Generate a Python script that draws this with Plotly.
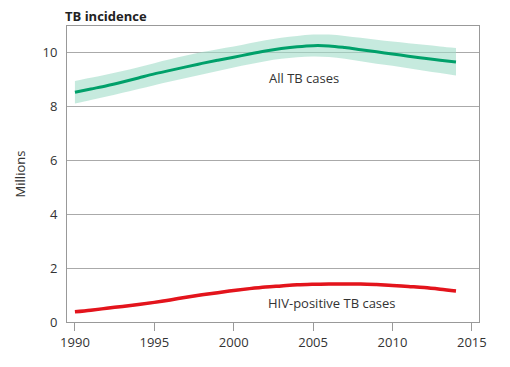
import plotly.graph_objects as go

years = list(range(1990, 2015))
all_tb = [8.54, 8.66, 8.78, 8.92, 9.07, 9.22, 9.35, 9.48, 9.61, 9.73, 9.84, 9.96, 10.07, 10.16,
          10.23, 10.27, 10.26, 10.20, 10.12, 10.04, 9.96, 9.88, 9.80, 9.73, 9.66]
all_tb_lo = [8.12, 8.25, 8.38, 8.52, 8.66, 8.80, 8.94, 9.07, 9.20, 9.33, 9.46, 9.58, 9.69, 9.78,
             9.84, 9.87, 9.85, 9.78, 9.69, 9.60, 9.52, 9.43, 9.34, 9.25, 9.16]
all_tb_hi = [8.96, 9.08, 9.20, 9.33, 9.47, 9.62, 9.76, 9.90, 10.03, 10.14, 10.24, 10.36, 10.47, 10.56,
             10.63, 10.68, 10.68, 10.63, 10.56, 10.49, 10.42, 10.36, 10.30, 10.24, 10.18]
hiv_tb = [0.38, 0.44, 0.51, 0.58, 0.65, 0.73, 0.82, 0.92, 1.01, 1.09, 1.17, 1.24, 1.30, 1.34,
          1.38, 1.40, 1.41, 1.41, 1.41, 1.39, 1.36, 1.32, 1.28, 1.22, 1.15]
hiv_lo = [v - 0.05 for v in hiv_tb]
hiv_hi = [v + 0.05 for v in hiv_tb]

x_ticks = [1990, 1995, 2000, 2005, 2010, 2015]
y_ticks = [0, 2, 4, 6, 8, 10]

GREEN = "#00a06a"
GREEN_BAND = "rgba(160,220,200,0.6)"
RED = "#e3141c"
RED_BAND = "rgba(240,150,150,0.5)"
FONT = "Open Sans"

fig = go.Figure()
fig.add_trace(go.Scatter(x=years, y=all_tb_hi, mode="lines", line=dict(width=0, shape="spline"),
                         hoverinfo="skip", showlegend=False))
fig.add_trace(go.Scatter(x=years, y=all_tb_lo, mode="lines", line=dict(width=0, shape="spline"),
                         fill="tonexty", fillcolor=GREEN_BAND, hoverinfo="skip", showlegend=False))
fig.add_trace(go.Scatter(x=years, y=all_tb, mode="lines", line=dict(color=GREEN, width=3, shape="spline"),
                         showlegend=False))
fig.add_trace(go.Scatter(x=years, y=hiv_hi, mode="lines", line=dict(width=0, shape="spline"),
                         hoverinfo="skip", showlegend=False))
fig.add_trace(go.Scatter(x=years, y=hiv_lo, mode="lines", line=dict(width=0, shape="spline"),
                         fill="tonexty", fillcolor=RED_BAND, hoverinfo="skip", showlegend=False))
fig.add_trace(go.Scatter(x=years, y=hiv_tb, mode="lines", line=dict(color=RED, width=3.5, shape="spline"),
                         showlegend=False))

fig.add_annotation(x=2004.4, y=9.08, text="All TB cases", showarrow=False,
                   font=dict(family=FONT, size=13, color="#333"))
fig.add_annotation(x=2006.2, y=0.71, text="HIV-positive TB cases", showarrow=False,
                   font=dict(family=FONT, size=13, color="#333"))

fig.update_layout(
    width=510, height=367,
    margin=dict(l=55, r=39, t=18, b=53),
    paper_bgcolor="white", plot_bgcolor="white",
    font=dict(family=FONT, size=13, color="#333"),
    title=dict(text="<b>TB incidence</b>", x=57 / 510, xref="container", xanchor="left",
               y=0.99, yref="container", yanchor="top", pad=dict(t=0, l=0),
               font=dict(family=FONT, size=13, color="#222")),
    xaxis=dict(range=[1989.5, 2015.45], tickvals=x_ticks, ticks="outside", ticklen=8, tickcolor="#999",
               showgrid=False, showline=True, linecolor="#999", linewidth=1, mirror=True,
               zeroline=False, tickfont=dict(size=13, color="#333")),
    yaxis=dict(range=[0, 11], tickvals=y_ticks, showgrid=True, gridcolor="#aaa", gridwidth=1,
               showline=True, linecolor="#999", linewidth=1, mirror=True, zeroline=False,
               ticks="", ticklabelstandoff=6,
               title=dict(text="Millions", standoff=13, font=dict(size=13, color="#333")),
               tickfont=dict(size=13, color="#333")),
)

fig.write_html("out.html")
